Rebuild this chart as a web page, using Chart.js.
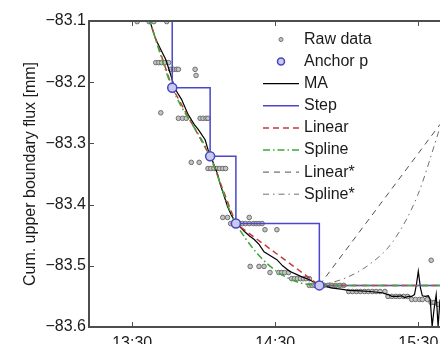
<!DOCTYPE html>
<html>
<head>
<meta charset="utf-8">
<script src="https://cdn.jsdelivr.net/npm/chart.js@4.4.0/dist/chart.umd.min.js"></script>
<style>
  html, body { margin: 0; padding: 0; background: #fff; overflow: hidden; }
</style>
</head>
<body>
<canvas id="fluxChart" width="446" height="344"></canvas>
<script>
// time is minutes after midnight, flux in mm
var xTickValues = [810, 870, 930];
var xTickLabels = ["13:30", "14:30", "15:30"];

var rawTime = [812.1, 817.1, 819.1, 824.5, 819.9, 821.2, 822.4, 823.7, 825.3, 826.1, 827.4, 828.6, 829.4,
  836.4, 836.8, 822.0, 829.4, 831.1, 832.7, 838.5, 839.7, 841.0, 841.8, 834.8, 838.1,
  841.8, 843.0, 844.3, 845.5, 846.7, 848.0, 849.2, 848.0, 850.0, 859.1,
  851.3, 852.5, 855.0, 856.2, 857.5, 859.1, 860.8, 862.0, 863.2, 864.5, 865.7, 870.7,
  859.5, 863.2, 865.3, 867.8, 871.5, 872.7, 874.0, 875.6,
  876.9, 878.1, 879.3, 880.6, 881.8, 883.0, 884.3,
  884.3, 885.5, 886.7, 888.0, 890.5, 892.1, 893.8, 895.4, 897.1, 898.7,
  900.8, 902.4, 904.1, 905.7, 907.4, 909.0, 910.7, 912.3, 914.0, 916.0,
  917.3, 918.9, 920.6, 922.2, 923.9, 925.5, 927.2, 928.8, 930.5, 931.7, 933.8,
  935.4, 936.6, 938.3, 935.4];
var rawFlux = [-83.101, -83.101, -83.101, -83.101, -83.168, -83.168, -83.168, -83.168, -83.168, -83.179, -83.179, -83.179, -83.179,
  -83.179, -83.189, -83.250, -83.259, -83.259, -83.259, -83.259, -83.259, -83.259, -83.259, -83.331, -83.331,
  -83.341, -83.341, -83.341, -83.341, -83.341, -83.341, -83.341, -83.421, -83.421, -83.421,
  -83.431, -83.431, -83.431, -83.431, -83.431, -83.431, -83.431, -83.431, -83.431, -83.431, -83.441, -83.441,
  -83.501, -83.501, -83.501, -83.511, -83.511, -83.511, -83.511, -83.511,
  -83.521, -83.521, -83.521, -83.521, -83.521, -83.521, -83.521,
  -83.532, -83.532, -83.532, -83.532, -83.532, -83.532, -83.532, -83.532, -83.532, -83.532,
  -83.542, -83.542, -83.542, -83.542, -83.542, -83.542, -83.542, -83.542, -83.542, -83.542,
  -83.550, -83.550, -83.550, -83.550, -83.550, -83.550, -83.555, -83.555, -83.555, -83.555, -83.555,
  -83.560, -83.560, -83.563, -83.491];

var maTime = [816.0, 817.5, 819.9, 822.4, 824.1, 826.1, 827.8, 829.4, 830.7, 833.5, 836.0, 837.7, 840.6, 841.8,
  843.0, 844.7, 845.9, 846.7, 848.4, 850.0, 851.7, 853.8, 855.4, 857.1, 859.1, 861.2, 863.2, 865.3,
  867.8, 870.7, 873.1, 876.0, 878.9, 881.8, 883.9, 885.9, 888.8, 890.0, 893.3, 897.5, 900.8, 905.7,
  909.8, 914.8, 917.3, 918.9, 921.4, 923.0, 924.3, 925.9, 927.2, 928.4, 929.2, 930.0, 930.9, 931.7,
  932.9, 934.2, 935.0, 935.8, 936.6, 937.5, 938.3, 939.1];
var maFlux = [-83.085, -83.101, -83.130, -83.150, -83.163, -83.187, -83.209, -83.220, -83.228, -83.253, -83.269, -83.277, -83.294, -83.310,
  -83.321, -83.339, -83.351, -83.364, -83.384, -83.403, -83.418, -83.431, -83.437, -83.444, -83.451, -83.457, -83.465, -83.477,
  -83.483, -83.490, -83.500, -83.509, -83.514, -83.519, -83.522, -83.526, -83.532, -83.531, -83.536, -83.538, -83.540, -83.541,
  -83.542, -83.544, -83.547, -83.550, -83.550, -83.549, -83.552, -83.550, -83.550, -83.547, -83.531, -83.509, -83.536, -83.549,
  -83.550, -83.549, -83.555, -83.599, -83.571, -83.547, -83.599, -83.555];

// anchor points; the first one lies just above the plotted range, the last is the held value at the end
var nodeTime = [816.9, 826.8, 842.7, 853.5, 888.5, 939.1];
var nodeFlux = [-83.095, -83.209, -83.321, -83.431, -83.532, -83.532];
var anchorTime = [826.8, 842.7, 853.5, 888.5];
var anchorFlux = [-83.209, -83.321, -83.431, -83.532];

var linStarTime = [888.5, 939.1];
var linStarFlux = [-83.532, -83.269];
var splStarTime = [888.5, 898.8, 909.1, 919.4, 929.7, 939.1];
var splStarFlux = [-83.532, -83.521, -83.499, -83.460, -83.385, -83.274];

function pts(xs, ys) {
  return xs.map(function(x, i) { return { x: x, y: ys[i] }; });
}

var FONT = '"Liberation Sans", Arial, sans-serif';

var framePlugin = {
  id: 'frame',
  afterDatasetsDraw: function(chart) {
    var ctx = chart.ctx, a = chart.chartArea;
    var xs = chart.scales.x, ys = chart.scales.y;
    ctx.save();
    ctx.strokeStyle = '#4d4d4d';
    ctx.lineWidth = 1;
    ctx.beginPath();
    xTickValues.forEach(function(v) {
      var px = Math.round(xs.getPixelForValue(v)) + 0.5;
      ctx.moveTo(px, a.bottom); ctx.lineTo(px, a.bottom - 5);
      ctx.moveTo(px, a.top); ctx.lineTo(px, a.top + 5);
    });
    ys.ticks.forEach(function(t) {
      var py = Math.round(ys.getPixelForValue(t.value)) + 0.5;
      ctx.moveTo(a.left, py); ctx.lineTo(a.left + 5, py);
    });
    ctx.stroke();
    ctx.lineWidth = 2;
    ctx.beginPath();
    ctx.moveTo(a.right, a.top);
    ctx.lineTo(a.left, a.top);
    ctx.lineTo(a.left, a.bottom);
    ctx.lineTo(a.right, a.bottom);
    ctx.stroke();
    ctx.restore();
  }
};

var legendPlugin = {
  id: 'innerLegend',
  afterDraw: function(chart) {
    var ctx = chart.ctx;
    var x0 = 263, x1 = 299, tx = 304, y0 = 39.5, dy = 22.1;
    ctx.save();
    ctx.font = '16px ' + FONT;
    ctx.textBaseline = 'middle';
    chart.data.datasets.forEach(function(ds, i) {
      var y = y0 + i * dy;
      if (ds.showLine === false) {
        ctx.beginPath();
        ctx.arc((x0 + x1) / 2, y, ds.legendRadius, 0, Math.PI * 2);
        ctx.fillStyle = ds.pointBackgroundColor;
        ctx.fill();
        ctx.lineWidth = ds.pointBorderWidth;
        ctx.strokeStyle = ds.pointBorderColor;
        ctx.stroke();
      } else {
        ctx.beginPath();
        ctx.setLineDash(ds.borderDash || []);
        ctx.lineWidth = ds.borderWidth;
        ctx.strokeStyle = ds.borderColor;
        ctx.moveTo(x0, y);
        ctx.lineTo(x1, y);
        ctx.stroke();
        ctx.setLineDash([]);
      }
      ctx.fillStyle = '#1a1a1a';
      ctx.fillText(ds.label, tx, y);
    });
    ctx.restore();
  }
};

var ctx = document.getElementById('fluxChart').getContext('2d');
var chart = new Chart(ctx, {
  type: 'scatter',
  data: {
    datasets: [
      { label: 'Raw data', data: pts(rawTime, rawFlux), showLine: false, order: 9,
        pointRadius: 2.3, pointBackgroundColor: '#c4c4c4', pointBorderColor: '#6e6e6e', pointBorderWidth: 1, legendRadius: 2 },
      { label: 'Anchor p', data: pts(anchorTime, anchorFlux), showLine: false, order: 0,
        pointRadius: 4.5, pointBackgroundColor: '#cacaee', pointBorderColor: '#4646c4', pointBorderWidth: 1.5, legendRadius: 3.5 },
      { label: 'MA', data: pts(maTime, maFlux), showLine: true, order: 7,
        borderColor: '#000000', borderWidth: 1.2, pointRadius: 0 },
      { label: 'Step', data: pts(nodeTime, nodeFlux), showLine: true, stepped: true, order: 6,
        borderColor: '#4848c8', borderWidth: 1.5, pointRadius: 0 },
      { label: 'Linear', data: pts(nodeTime, nodeFlux), showLine: true, order: 5,
        borderColor: '#c83a3a', borderWidth: 1.5, borderDash: [6, 4], pointRadius: 0 },
      { label: 'Spline', data: pts(nodeTime, nodeFlux), showLine: true, order: 4, cubicInterpolationMode: 'monotone',
        borderColor: '#3aa83a', borderWidth: 1.5, borderDash: [7, 3, 1.5, 3], pointRadius: 0 },
      { label: 'Linear*', data: pts(linStarTime, linStarFlux), showLine: true, order: 3,
        borderColor: '#505050', borderWidth: 1, borderDash: [6, 5], pointRadius: 0 },
      { label: 'Spline*', data: pts(splStarTime, splStarFlux), showLine: true, order: 2, cubicInterpolationMode: 'monotone',
        borderColor: '#707070', borderWidth: 1, borderDash: [6, 4, 1.5, 4], pointRadius: 0 }
    ]
  },
  options: {
    responsive: false,
    animation: false,
    devicePixelRatio: 1,
    layout: { padding: { top: 21, right: 0, left: 0, bottom: 0 } },
    plugins: { legend: { display: false }, tooltip: { enabled: false } },
    scales: {
      x: {
        type: 'linear', min: 791.9, max: 939.1, bounds: 'data',
        grid: { display: false, drawTicks: false },
        border: { display: false },
        afterBuildTicks: function(scale) {
          scale.ticks = xTickValues.map(function(v) { return { value: v }; });
        },
        afterFit: function(scale) { scale.height = 17; },
        ticks: {
          padding: 7, maxRotation: 0, autoSkip: false, color: '#1a1a1a',
          font: { family: FONT, size: 16 },
          callback: function(v, i) { return xTickLabels[i]; }
        }
      },
      y: {
        type: 'linear', min: -83.6, max: -83.1,
        grid: { display: false, drawTicks: false },
        border: { display: false },
        afterFit: function(scale) { scale.width = 89; },
        title: {
          display: true, text: 'Cum. upper boundary flux [mm]', color: '#1a1a1a',
          font: { family: FONT, size: 16 }, padding: { top: 21, bottom: 0 }
        },
        ticks: {
          stepSize: 0.1, padding: 3, autoSkip: false, color: '#1a1a1a',
          font: { family: FONT, size: 16 },
          callback: function(v) { return '\u2212' + Math.abs(v).toFixed(1); }
        }
      }
    }
  },
  plugins: [framePlugin, legendPlugin]
});
</script>
</body>
</html>
